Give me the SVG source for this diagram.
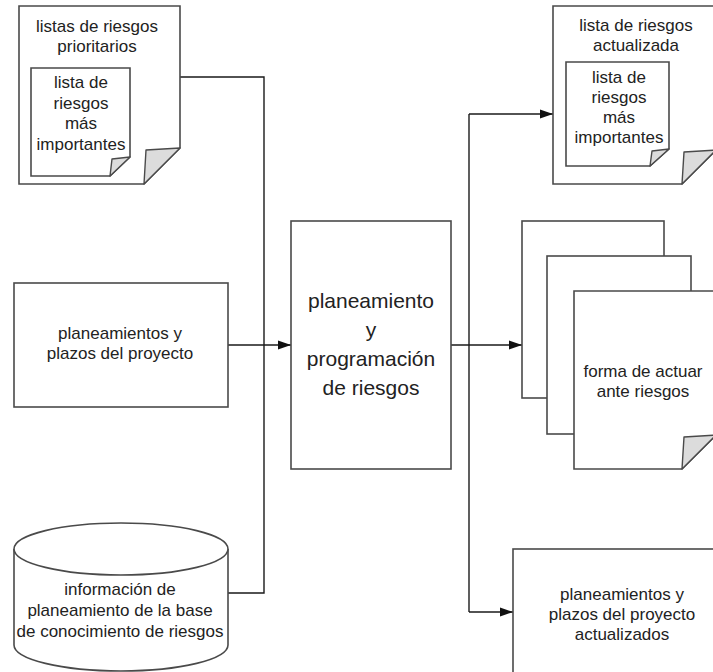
<svg xmlns="http://www.w3.org/2000/svg" width="713" height="672" viewBox="0 0 713 672">
  <defs>
    <marker id="arrow" markerUnits="userSpaceOnUse" markerWidth="14" markerHeight="10" refX="13" refY="5" orient="auto">
      <path d="M0,0.5 L13,5 L0,9.5 Z" fill="#111"/>
    </marker>
  </defs>
  <style>
    .shape { fill: #fff; stroke: #4a4a4a; stroke-width: 1.6; }
    .fold { fill: #dcdcdc; stroke: #4a4a4a; stroke-width: 1.4; stroke-linejoin: round; }
    .conn { fill: none; stroke: #1a1a1a; stroke-width: 1.4; }
    text { font-family: "Liberation Sans", Arial, sans-serif; font-size: 17px; fill: #222; text-anchor: middle; }
    .big { font-size: 21px; }
  </style>
  <rect width="713" height="672" fill="#fff"/>

  <!-- connectors -->
  <g id="connectors">
    <path class="conn" d="M180,77 H264 V593 H228"/>
    <path class="conn" d="M228,345 H291" marker-end="url(#arrow)"/>
    <path class="conn" d="M451,345 H522" marker-end="url(#arrow)"/>
    <path class="conn" d="M469,114 V612"/>
    <path class="conn" d="M469,114 H553" marker-end="url(#arrow)"/>
    <path class="conn" d="M469,612 H513" marker-end="url(#arrow)"/>
  </g>

  <!-- prioritized risk lists (document with nested document) -->
  <g id="listas-prioritarios">
    <path class="shape" d="M19,6 H180 V148 L144,184 H19 Z"/>
    <path class="fold" d="M144,184 L146,150 L180,148 Z"/>
    <text x="97" y="32">listas de riesgos</text>
    <text x="97" y="52">prioritarios</text>
    <path class="shape" d="M31,68 H130 V157 L110,176 H31 Z"/>
    <path class="fold" d="M110,176 L112,159 L130,157 Z"/>
    <text x="81" y="88">lista de</text>
    <text x="81" y="108.5">riesgos</text>
    <text x="81" y="129">más</text>
    <text x="81" y="149.5">importantes</text>
  </g>

  <!-- project plans and schedules -->
  <g id="planes-proyecto">
    <rect class="shape" x="14" y="283" width="214" height="124"/>
    <text x="120" y="339">planeamientos y</text>
    <text x="120" y="359">plazos del proyecto</text>
  </g>

  <!-- knowledge base (cylinder) -->
  <g id="base-conocimiento">
    <path class="shape" d="M14,549 V645 A107,26 0 0 0 228,645 V549"/>
    <ellipse class="shape" cx="121" cy="549" rx="107" ry="26"/>
    <text x="120" y="595">información de</text>
    <text x="120" y="616">planeamiento de la base</text>
    <text x="120" y="637">de conocimiento de riesgos</text>
  </g>

  <!-- central process -->
  <g id="proceso">
    <rect class="shape" x="291" y="221" width="160" height="248"/>
    <text class="big" x="371" y="308">planeamiento</text>
    <text class="big" x="371" y="337">y</text>
    <text class="big" x="371" y="366">programación</text>
    <text class="big" x="371" y="395">de riesgos</text>
  </g>

  <!-- updated risk list -->
  <g id="lista-actualizada">
    <path class="shape" d="M553,6 H716 V150 L682,184 H553 Z"/>
    <path class="fold" d="M682,184 L684,152 L716,150 Z"/>
    <text x="636" y="31">lista de riesgos</text>
    <text x="636" y="51">actualizada</text>
    <path class="shape" d="M566,62 H669 V149 L650,166 H566 Z"/>
    <path class="fold" d="M650,166 L652,151 L669,149 Z"/>
    <text x="619" y="83">lista de</text>
    <text x="619" y="103">riesgos</text>
    <text x="619" y="123">más</text>
    <text x="619" y="143">importantes</text>
  </g>

  <!-- risk response actions (stacked documents) -->
  <g id="forma-actuar">
    <rect class="shape" x="522" y="221" width="142" height="177"/>
    <rect class="shape" x="547" y="256" width="144" height="178"/>
    <path class="shape" d="M574,291 H716 V435 L682,469 H574 Z"/>
    <path class="fold" d="M682,469 L684,437 L716,435 Z"/>
    <text x="643" y="377">forma de actuar</text>
    <text x="643" y="397">ante riesgos</text>
  </g>

  <!-- updated project plans -->
  <g id="planes-actualizados">
    <rect class="shape" x="513" y="549" width="220" height="140"/>
    <text x="622" y="600">planeamientos y</text>
    <text x="622" y="620">plazos del proyecto</text>
    <text x="622" y="640">actualizados</text>
  </g>
</svg>
